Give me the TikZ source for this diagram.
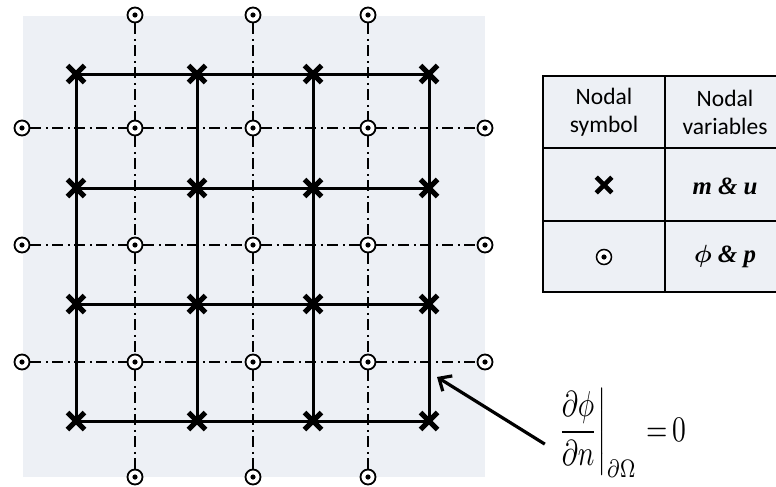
\documentclass[tikz,border=0pt]{standalone}
\usepackage{amsmath}
\usepackage{graphicx}
\usepackage{fontspec}
\setmainfont{Liberation Serif}
\newfontfamily\tabfont{Carlito}
\usetikzlibrary{arrows.meta,shapes.misc}
\definecolor{PanelGray}{RGB}{237,240,245}

\begin{document}
\begin{tikzpicture}[
    x=1pt, y=-1pt,
    solidgrid/.style={line width=3pt},
    dashgrid/.style={line width=1.6pt, dash pattern=on 11pt off 4.5pt on 2pt off 4.5pt},
    xnode/.style={cross out, draw, line width=5pt, minimum size=12pt, inner sep=0pt},
    vnode/.style={
        circle,
        draw,
        line width=1.8pt,
        fill=white,
        minimum size=15pt,
        inner sep=0pt,
        path picture={\fill[black] (path picture bounding box.center) circle (2.6pt);}
    },
    cell/.style={align=center, font=\tabfont\fontsize{23.5}{28}\selectfont},
    varcell/.style={font=\fontsize{24.88}{28}\selectfont\bfseries\itshape},
    pointer/.style={-{Straight Barb[length=10pt,width=18pt]}, line width=3.2pt}
]
\useasboundingbox (0,0) rectangle (776,487);
\fill[PanelGray] (23,16) rectangle (485,477);

% m & u grid points
\foreach \c/\x in {1/76,2/197,3/313,4/429}
  \foreach \r/\y in {1/74,2/188,3/304,4/421}
    \coordinate (m-\r-\c) at (\x,\y);

% phi & p points, inside and on the border
\foreach \c/\x in {1/135,2/253,3/368}{
  \node[vnode] (p-0-\c) at (\x,15) {};
  \node[vnode] (p-4-\c) at (\x,477) {};
  \foreach \r/\y in {1/128,2/245,3/362}
    \node[vnode] (p-\r-\c) at (\x,\y) {};
}
\foreach \r/\y in {1/128,2/245,3/362}{
  \node[vnode] (p-\r-0) at (22,\y) {};
  \node[vnode] (p-\r-4) at (485,\y) {};
}

\foreach \i in {1,2,3}{
  \draw[dashgrid] (p-0-\i) -- (p-1-\i) -- (p-2-\i) -- (p-3-\i) -- (p-4-\i);
  \draw[dashgrid] (p-\i-0) -- (p-\i-1) -- (p-\i-2) -- (p-\i-3) -- (p-\i-4);
}

\foreach \i in {1,...,4}{
  \draw[solidgrid] (m-\i-1) -- (m-\i-2) -- (m-\i-3) -- (m-\i-4);
  \draw[solidgrid] (m-1-\i) -- (m-2-\i) -- (m-3-\i) -- (m-4-\i);
}
\foreach \r in {1,...,4}
  \foreach \c in {1,...,4}
    \node[xnode] (x-\r-\c) at (m-\r-\c) {};

% legend table
\fill[PanelGray] (543,76) rectangle (776,292);
\draw[line width=1.5pt] (776,76) -- (543,76) -- (543,292) -- (776,292);
\draw[line width=1.5pt] (665,76) -- (665,292);
\draw[line width=1.5pt] (543,148) -- (776,148) (543,221) -- (776,221);

\node[cell] (hsym) at (604,112) {Nodal\\symbol};
\node[cell] (hvar) at (725,112) {Nodal\\variables};
\node[xnode, minimum size=11pt, line width=4.6pt] (sym1) at (604,185) {};
\node[varcell] (var1) at (725,186) {m \& u};
\node[vnode, line width=1.5pt] (sym2) at (604,257) {};
\node[varcell] (var2) at (725,257) {$\boldsymbol{\phi}$ \& p};

% boundary condition
\node[anchor=base west, inner sep=0pt] (bc) at (555,441)
{\scalebox{2.75}[3.6]{$\displaystyle\left.\frac{\partial\phi}{\partial n}\right|_{\partial\Omega}\,{=}\,0$}};
\coordinate (bdry) at (437,377);
\draw[pointer, shorten <=12pt] (bc.195) -- (bdry);

\end{tikzpicture}
\end{document}
